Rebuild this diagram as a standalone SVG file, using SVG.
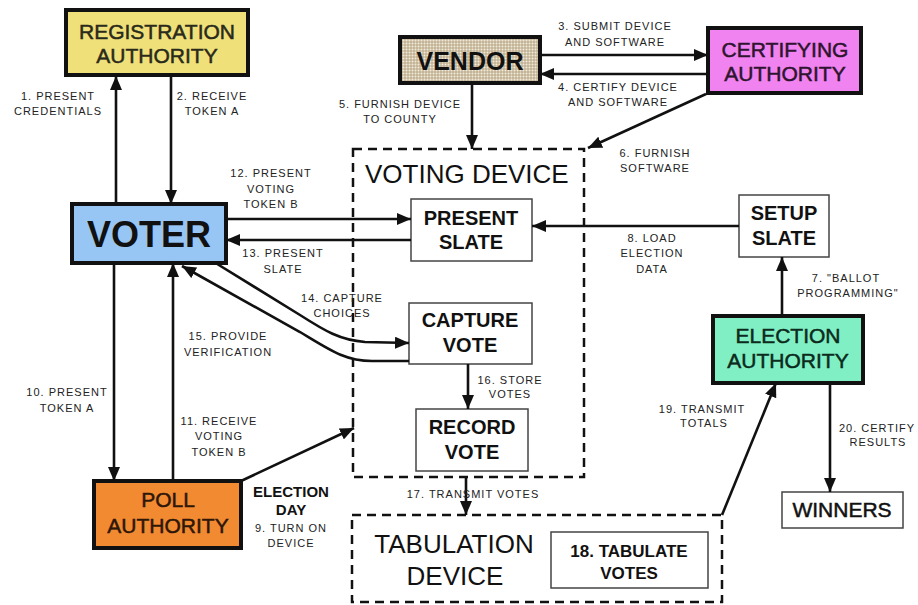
<svg xmlns="http://www.w3.org/2000/svg" width="918" height="605" viewBox="0 0 918 605">
<style>
.bg{fill:#ffffff}
.auth{stroke:#111;stroke-width:4}
.plain{fill:#fff;stroke:#444;stroke-width:1.5}
.dash{fill:none;stroke:#111;stroke-width:2.5;stroke-dasharray:9 6}
.big{font-family:"Liberation Sans",Arial,sans-serif;font-size:21px;text-anchor:middle;stroke-width:0.5}
.bold{font-family:"Liberation Sans",Arial,sans-serif;font-weight:bold;text-anchor:middle;fill:#111}
.lbl{font-family:"Liberation Sans",Arial,sans-serif;font-size:11px;letter-spacing:1px;fill:#222;text-anchor:middle}
.cn line,.cn path{stroke:#111;stroke-width:2.6;fill:none}
</style>
<defs>
<marker id="ah" markerUnits="userSpaceOnUse" markerWidth="14" markerHeight="12" refX="14" refY="6" orient="auto">
<path d="M0,0 L14,6 L0,12 z" fill="#111"/>
</marker>
<pattern id="dots" width="3" height="3" patternUnits="userSpaceOnUse">
<rect width="3" height="3" fill="#c2b294"/>
<circle cx="1.5" cy="1.5" r="1" fill="#f1ebdc"/>
</pattern>
</defs>
<rect class="bg" width="918" height="605"/>

<g id="registration">
<rect class="auth" x="66" y="10" width="182" height="65" fill="#efe07a"/>
<text class="big" x="157" y="39" fill="#2a2a1a" stroke="#2a2a1a">REGISTRATION</text>
<text class="big" x="157" y="63" fill="#2a2a1a" stroke="#2a2a1a">AUTHORITY</text>
</g>

<g id="vendor">
<rect class="auth" x="400" y="37" width="140" height="46" fill="url(#dots)"/>
<text class="bold" x="470" y="70" font-size="25">VENDOR</text>
</g>

<g id="certifying">
<rect class="auth" x="708" y="28" width="153" height="65" fill="#f083ef"/>
<text class="big" x="785" y="57" font-size="20" fill="#2e142e" stroke="#2e142e">CERTIFYING</text>
<text class="big" x="785" y="81" font-size="20" fill="#2e142e" stroke="#2e142e">AUTHORITY</text>
</g>

<g id="voter">
<rect class="auth" x="72" y="204" width="154" height="59" fill="#98c6f4"/>
<text class="bold" x="149" y="247" font-size="36" fill="#0a1a3c">VOTER</text>
</g>

<g id="voting-device">
<rect class="dash" x="353" y="149" width="231" height="328"/>
<text x="365" y="183" font-family="Liberation Sans, Arial, sans-serif" font-size="26" fill="#111">VOTING DEVICE</text>
</g>

<g id="present-slate">
<rect class="plain" x="411" y="199" width="121" height="62"/>
<text class="bold" x="471" y="225" font-size="20">PRESENT</text>
<text class="bold" x="471" y="249" font-size="20">SLATE</text>
</g>

<g id="capture-vote">
<rect class="plain" x="409" y="303" width="123" height="61"/>
<text class="bold" x="470" y="327" font-size="20">CAPTURE</text>
<text class="bold" x="470" y="352" font-size="20">VOTE</text>
</g>

<g id="record-vote">
<rect class="plain" x="416" y="409" width="112" height="62"/>
<text class="bold" x="472" y="434" font-size="20">RECORD</text>
<text class="bold" x="472" y="459" font-size="20">VOTE</text>
</g>

<g id="setup-slate">
<rect class="plain" x="739" y="195" width="90" height="62"/>
<text class="bold" x="784" y="220" font-size="20">SETUP</text>
<text class="bold" x="784" y="245" font-size="20">SLATE</text>
</g>

<g id="election">
<rect class="auth" x="713" y="316" width="150" height="67" fill="#80f0c4"/>
<text class="big" x="788" y="343" fill="#0c2a1c" stroke="#0c2a1c">ELECTION</text>
<text class="big" x="788" y="368" fill="#0c2a1c" stroke="#0c2a1c">AUTHORITY</text>
</g>

<g id="winners">
<rect class="plain" x="782" y="492" width="121" height="36"/>
<text class="big" x="842" y="517" font-size="20" fill="#111" stroke="#111">WINNERS</text>
</g>

<g id="poll">
<rect class="auth" x="94" y="481" width="147" height="67" fill="#f28a32"/>
<text class="big" x="168" y="507" fill="#2e1608" stroke="#2e1608">POLL</text>
<text class="big" x="168" y="533" fill="#2e1608" stroke="#2e1608">AUTHORITY</text>
</g>

<g id="tabulation-device">
<rect class="dash" x="352" y="515" width="370" height="87"/>
<text x="454" y="553" font-family="Liberation Sans, Arial, sans-serif" font-size="26" fill="#111" text-anchor="middle">TABULATION</text>
<text x="455" y="585" font-family="Liberation Sans, Arial, sans-serif" font-size="26" fill="#111" text-anchor="middle">DEVICE</text>
</g>

<g id="tabulate-votes">
<rect class="plain" x="551" y="532" width="157" height="56"/>
<text class="bold" x="629" y="557" font-size="17">18. TABULATE</text>
<text class="bold" x="629" y="579" font-size="17">VOTES</text>
</g>

<g id="connectors" class="cn">
<line x1="116" y1="204" x2="116" y2="76" marker-end="url(#ah)"/>
<line x1="171" y1="76" x2="171" y2="204" marker-end="url(#ah)"/>
<line x1="540" y1="55" x2="708" y2="55" marker-end="url(#ah)"/>
<line x1="708" y1="74" x2="540" y2="74" marker-end="url(#ah)"/>
<line x1="472" y1="83" x2="472" y2="149" marker-end="url(#ah)"/>
<line x1="706" y1="94" x2="588" y2="148" marker-end="url(#ah)"/>
<line x1="782" y1="316" x2="782" y2="257" marker-end="url(#ah)"/>
<line x1="739" y1="226" x2="532" y2="226" marker-end="url(#ah)"/>
<line x1="241" y1="481" x2="354" y2="428" marker-end="url(#ah)"/>
<line x1="114" y1="263" x2="114" y2="481" marker-end="url(#ah)"/>
<line x1="173" y1="481" x2="173" y2="263" marker-end="url(#ah)"/>
<line x1="226" y1="219" x2="411" y2="219" marker-end="url(#ah)"/>
<line x1="411" y1="240" x2="226" y2="240" marker-end="url(#ah)"/>
<path d="M214 262 L300 315 C325 331 340 340 365 342 L409 343" marker-end="url(#ah)"/>
<path d="M409 361 L372 361 C345 361 330 350 300 332 L182 266" marker-end="url(#ah)"/>
<line x1="468" y1="364" x2="468" y2="409" marker-end="url(#ah)"/>
<line x1="466" y1="477" x2="466" y2="515" marker-end="url(#ah)"/>
<line x1="722" y1="515" x2="776" y2="383" marker-end="url(#ah)"/>
<line x1="830" y1="383" x2="830" y2="492" marker-end="url(#ah)"/>
</g>

<g id="labels">
<text class="lbl" x="58" y="100">1. PRESENT</text>
<text class="lbl" x="58" y="115">CREDENTIALS</text>
<text class="lbl" x="212" y="100">2. RECEIVE</text>
<text class="lbl" x="212" y="115">TOKEN A</text>
<text class="lbl" x="615" y="30">3. SUBMIT DEVICE</text>
<text class="lbl" x="615" y="46">AND SOFTWARE</text>
<text class="lbl" x="618" y="91">4. CERTIFY DEVICE</text>
<text class="lbl" x="618" y="106">AND SOFTWARE</text>
<text class="lbl" x="400" y="108">5. FURNISH DEVICE</text>
<text class="lbl" x="400" y="123">TO COUNTY</text>
<text class="lbl" x="655" y="157">6. FURNISH</text>
<text class="lbl" x="655" y="172">SOFTWARE</text>
<text class="lbl" x="846" y="282">7. "BALLOT</text>
<text class="lbl" x="848" y="297">PROGRAMMING"</text>
<text class="lbl" x="652" y="242">8. LOAD</text>
<text class="lbl" x="652" y="257">ELECTION</text>
<text class="lbl" x="652" y="273">DATA</text>
<text class="bold" x="291" y="497" font-size="15">ELECTION</text>
<text class="bold" x="291" y="515" font-size="15">DAY</text>
<text class="lbl" x="291" y="532">9. TURN ON</text>
<text class="lbl" x="291" y="547">DEVICE</text>
<text class="lbl" x="67" y="396">10. PRESENT</text>
<text class="lbl" x="67" y="412">TOKEN A</text>
<text class="lbl" x="219" y="425">11. RECEIVE</text>
<text class="lbl" x="219" y="440">VOTING</text>
<text class="lbl" x="219" y="456">TOKEN B</text>
<text class="lbl" x="271" y="177">12. PRESENT</text>
<text class="lbl" x="271" y="193">VOTING</text>
<text class="lbl" x="271" y="208">TOKEN B</text>
<text class="lbl" x="283" y="257">13. PRESENT</text>
<text class="lbl" x="283" y="273">SLATE</text>
<text class="lbl" x="342" y="302">14. CAPTURE</text>
<text class="lbl" x="342" y="317">CHOICES</text>
<text class="lbl" x="228" y="340">15. PROVIDE</text>
<text class="lbl" x="228" y="356">VERIFICATION</text>
<text class="lbl" x="510" y="384">16. STORE</text>
<text class="lbl" x="510" y="398">VOTES</text>
<text class="lbl" x="473" y="498" text-anchor="start">17. TRANSMIT VOTES</text>
<text class="lbl" x="702" y="413">19. TRANSMIT</text>
<text class="lbl" x="704" y="427">TOTALS</text>
<text class="lbl" x="877" y="432">20. CERTIFY</text>
<text class="lbl" x="878" y="446">RESULTS</text>
</g>
</svg>
